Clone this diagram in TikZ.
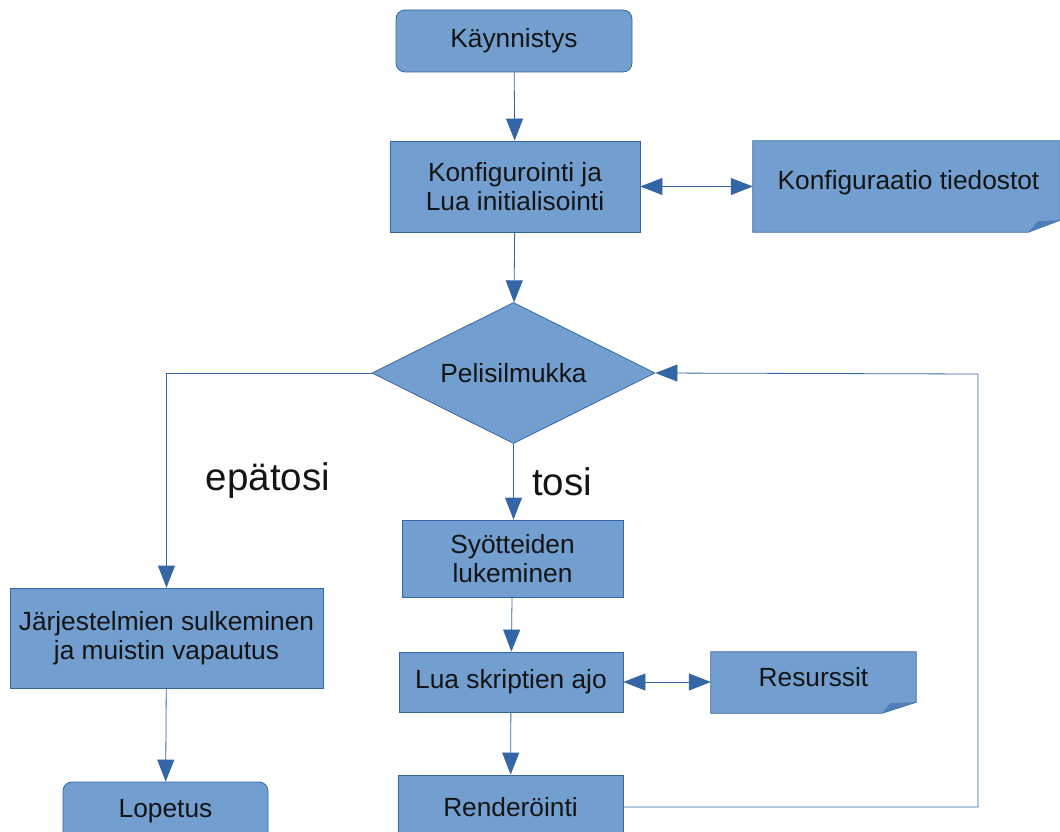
\documentclass[tikz,border=0pt]{standalone}
\usepackage{fontspec}
\setmainfont{Liberation Sans}
\usetikzlibrary{shapes.geometric,arrows.meta,calc}
\definecolor{boxfill}{HTML}{729FCF}
\definecolor{boxline}{HTML}{3465A4}
\definecolor{foldfill}{HTML}{4F7DB8}
\definecolor{txt}{HTML}{141414}
\begin{document}
\begin{tikzpicture}[x=1pt,y=-1pt,
  box/.style={rectangle,fill=boxfill,draw=boxline,line width=0.8pt,inner sep=0pt,
    text=txt,align=center,font=\fontsize{26.3}{29}\selectfont},
  rbox/.style={box,rounded corners=9pt},
  notebox/.style={rectangle,inner sep=0pt,text=txt,align=center,font=\fontsize{26.3}{29}\selectfont},
  decision/.style={diamond,aspect=2,fill=boxfill,draw=boxline,line width=0.8pt,inner sep=0pt,
    text=txt,font=\fontsize{26.3}{29}\selectfont},
  lbl/.style={text=txt,inner sep=0pt,font=\fontsize{38.5}{44}\selectfont},
  conn/.style={draw=boxline,line width=0.8pt,-{Triangle[length=22pt,width=17pt]}},
  dconn/.style={draw=boxline,line width=0.8pt,{Triangle[length=22pt,width=17pt]}-{Triangle[length=22pt,width=17pt]}},
  line/.style={draw=boxline,line width=0.8pt}
]
\useasboundingbox (0,0) rectangle (1060,832);

% nodes
\node[rbox,minimum width=236pt,minimum height=62pt] (start) at (514,41) {Käynnistys};
\node[box,minimum width=250pt,minimum height=91pt] (cfg) at (515,186.5) {Konfigurointi ja\\Lua initialisointi};

% note shapes (folded corner)
\node[notebox,minimum width=307pt,minimum height=91pt] (cfgf) at (906.5,186.5) {};
\filldraw[fill=boxfill,draw=boxline,line width=0.8pt]
  (cfgf.north west) -- (cfgf.north east) -- ($(cfgf.south east)+(0,-12)$)
  -- ($(cfgf.south east)+(-32,0)$) -- (cfgf.south west) -- cycle;
\fill[foldfill] ($(cfgf.south east)+(-32,0)$) -- ($(cfgf.south east)+(-22,-11)$) -- ($(cfgf.south east)+(0,-12)$) -- cycle;
\node[notebox] (cfgft) at ($(cfgf.center)+(2,-4)$) {Konfiguraatio tiedostot};

\node[decision,minimum width=283pt,minimum height=141pt] (dia) at (513.5,373) {Pelisilmukka};

\node[box,minimum width=313pt,minimum height=100pt] (jarj) at (166.5,638) {Järjestelmien sulkeminen\\ja muistin vapautus};
\node[rbox,minimum width=205pt,minimum height=58pt] (lop) at (165.5,811) {Lopetus};

\node[box,minimum width=221pt,minimum height=77pt] (syo) at (512.5,558.5) {Syötteiden\\lukeminen};
\node[box,minimum width=224pt,minimum height=60pt] (lua) at (511,682) {Lua skriptien ajo};

\node[notebox,minimum width=205pt,minimum height=61pt] (res) at (813.5,682.5) {};
\filldraw[fill=boxfill,draw=boxline,line width=0.8pt]
  (res.north west) -- (res.north east) -- ($(res.south east)+(0,-11)$)
  -- ($(res.south east)+(-34,0)$) -- (res.south west) -- cycle;
\fill[foldfill] ($(res.south east)+(-34,0)$) -- ($(res.south east)+(-26,-10)$) -- ($(res.south east)+(0,-11)$) -- cycle;
\node[notebox] (rest) at ($(res.center)+(0,-5)$) {Resurssit};

\node[box,minimum width=225pt,minimum height=64pt] (rend) at (510.5,807) {Renderöinti};

\node[lbl] (tosi) at (562,482) {tosi};
\node[lbl] (epa) at (268,481) {epätosi};

\coordinate (loopx) at (978,374);

% connectors
\draw[conn] (start) -- (cfg);
\draw[dconn] (cfg.east) -- (cfgf.west);
\draw[conn] (cfg) -- (dia);
\draw[conn] (dia.west) -| (jarj.north);
\draw[conn] (jarj) -- (lop);
\draw[conn] (dia.south) -- (syo.north -| dia.south);
\draw[conn] (syo) -- (lua);
\draw[dconn] (lua.east) -- (res.west |- lua.east);
\draw[conn] (lua) -- (rend);
\draw[conn] (rend.east) -| (loopx) -- (dia.east);
\end{tikzpicture}
\end{document}
